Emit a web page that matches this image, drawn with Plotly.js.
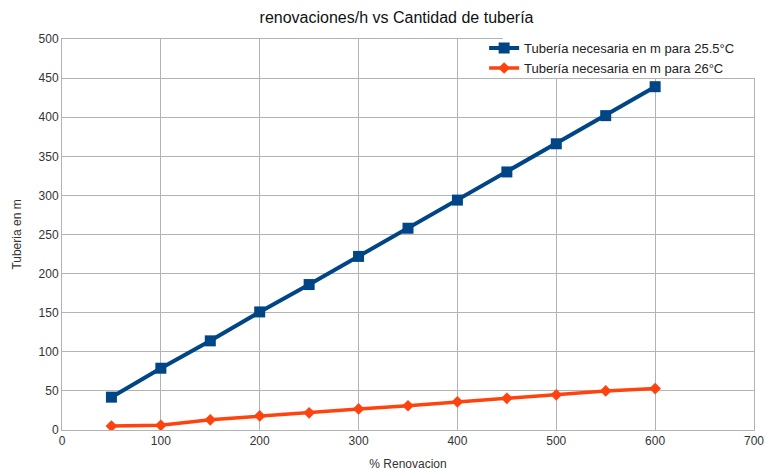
<!DOCTYPE html>
<html>
<head>
<meta charset="utf-8">
<script src="https://cdn.plot.ly/plotly-3.0.1.min.js"></script>
<style>html,body{margin:0;padding:0;background:#fff;}#chart{width:767px;height:471px;}</style>
</head>
<body>
<div id="chart"></div>
<script>
const renovacion = [50, 100, 150, 200, 250, 300, 350, 400, 450, 500, 550, 600];
const tuberia255 = [42, 79, 114, 151, 186, 222, 258, 294, 330, 366, 402, 439];
const tuberia26 = [5, 6, 13, 18, 22, 27, 31, 36, 40.5, 45, 50, 53];
const seriesNames = ["Tubería necesaria en m para 25.5°C", "Tubería necesaria en m para 26°C"];

const traces = [
  {x: renovacion, y: tuberia255, name: seriesNames[0], type: "scatter", mode: "lines+markers",
   line: {color: "#004586", width: 4}, marker: {symbol: "square", size: 11, color: "#004586"}},
  {x: renovacion, y: tuberia26, name: seriesNames[1], type: "scatter", mode: "lines+markers",
   line: {color: "#ff420e", width: 3.5}, marker: {symbol: "diamond", size: 9, color: "#ff420e"}}
];

const layout = {
  width: 767, height: 471,
  margin: {l: 62, r: 13, t: 39, b: 41},
  paper_bgcolor: "#fff", plot_bgcolor: "#fff",
  font: {family: "Liberation Sans, Arial, sans-serif", size: 12, color: "#333"},
  title: {text: "renovaciones/h vs Cantidad de tubería", x: 0.517, xanchor: "center", y: 0.962, yanchor: "middle",
          font: {size: 16, color: "#111"}},
  xaxis: {range: [0, 700], dtick: 100, tick0: 0, showgrid: true, gridcolor: "#b3b3b3", gridwidth: 1,
          zeroline: false, showline: true, linecolor: "#b3b3b3", mirror: true, ticks: "",
          tickfont: {size: 12, color: "#333"},
          title: {text: "% Renovacion", font: {size: 12, color: "#333"}, standoff: 14}},
  yaxis: {range: [0, 500], dtick: 50, tick0: 0, showgrid: true, gridcolor: "#b3b3b3", gridwidth: 1,
          zeroline: false, showline: true, linecolor: "#b3b3b3", mirror: true, ticks: "",
          tickfont: {size: 12, color: "#333"},
          title: {text: "Tuberia en m", font: {size: 12, color: "#333"}, standoff: 14}},
  shapes: [{type: "rect", xref: "paper", yref: "paper", x0: 0.637, x1: 1.03, y0: 0.9, y1: 1.05,
            fillcolor: "#fff", line: {width: 0}, layer: "above"}],
  legend: {x: 0.61, y: 1.015, xanchor: "left", yanchor: "top", bgcolor: "rgba(0,0,0,0)",
           font: {size: 13, color: "#222"}, tracegroupgap: 0, itemwidth: 30},
  showlegend: true
};

Plotly.newPlot("chart", traces, layout, {displayModeBar: false, staticPlot: true});
</script>
</body>
</html>
